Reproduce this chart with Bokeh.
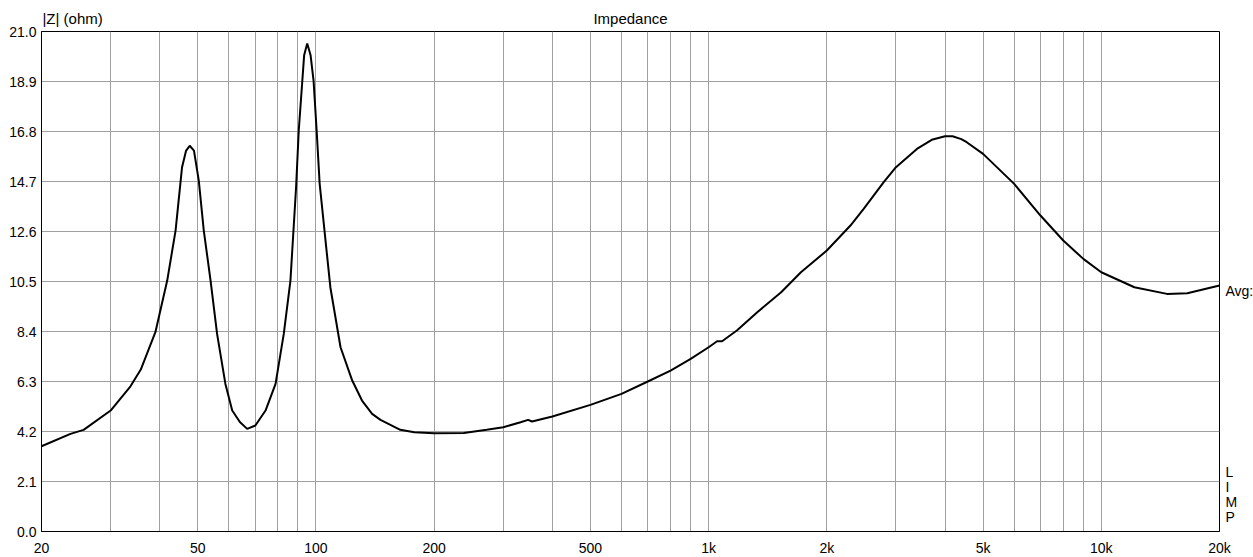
from bokeh.plotting import figure
from bokeh.models import FixedTicker, PrintfTickFormatter, Range1d, LinearAxis, LogAxis
from bokeh.embed import file_html
from bokeh.resources import INLINE

# Impedance curve (Hz, ohm)
freq = [20, 23.7, 25.6, 30, 33.7, 35.8, 39, 41.8, 43.9, 45.6, 46.7, 47.7, 48.9, 50.3,
        51.8, 53.9, 56.0, 58.8, 61.2, 64.0, 66.8, 70.1, 74.4, 78.9, 82.8, 86.1, 89.0,
        90.4, 93.3, 95.0, 96.9, 98.6, 100.4, 102.2, 108.8, 115.5, 123.7, 131, 139, 146,
        164, 178, 200, 238, 272, 300, 332, 347, 355, 400, 500, 600, 700, 800, 900, 1000,
        1051, 1082, 1180, 1330, 1530, 1718, 2000, 2297, 2482, 2792, 3000, 3392, 3700, 4000,
        4180, 4400, 4542, 5000, 6000, 7000, 8000, 9000, 10000, 12140, 14700, 16560, 20000]
imp = [3.58, 4.10, 4.27, 5.08, 6.10, 6.80, 8.37, 10.54, 12.64, 15.30, 16.00, 16.20, 16.00, 14.74,
       12.64, 10.54, 8.30, 6.20, 5.08, 4.60, 4.31, 4.45, 5.08, 6.20, 8.30, 10.54, 14.46,
       16.84, 20.00, 20.50, 20.00, 18.94, 16.84, 14.60, 10.26, 7.74, 6.34, 5.50, 4.94, 4.69,
       4.27, 4.17, 4.13, 4.14, 4.27, 4.38, 4.59, 4.69, 4.62, 4.83, 5.32, 5.78, 6.30, 6.76, 7.25, 7.74,
       7.99, 7.99, 8.44, 9.21, 10.05, 10.89, 11.80, 12.85, 13.55, 14.67, 15.30, 16.07, 16.45, 16.60,
       16.60, 16.48, 16.35, 15.86, 14.60, 13.27, 12.22, 11.45, 10.89, 10.26, 9.98, 10.01, 10.33]

x_grid = [20, 30, 40, 50, 60, 70, 80, 90, 100, 200, 300, 400, 500, 600, 700, 800, 900,
          1000, 2000, 3000, 4000, 5000, 6000, 7000, 8000, 9000, 10000, 20000]
x_labels = {20: "20", 50: "50", 100: "100", 200: "200", 500: "500", 1000: "1k",
            2000: "2k", 5000: "5k", 10000: "10k", 20000: "20k"}
y_ticks = [0.0, 2.1, 4.2, 6.3, 8.4, 10.5, 12.6, 14.7, 16.8, 18.9, 21.0]

# texts placed around the frame
top_texts = {24.0: "|Z| (ohm)", 632.5: "Impedance"}
right_texts = {10.12: "Avg:", 2.52: "L", 1.89: "I", 1.26: "M", 0.63: "P"}

FONT = "Liberation Sans"
FS = "14px"
GRID = "#a0a0a0"

p = figure(x_axis_type="log", x_range=Range1d(20, 20000), y_range=Range1d(0, 21),
           frame_width=1178, frame_height=500,
           min_border_left=41, min_border_right=34, min_border_top=31, min_border_bottom=26,
           output_backend="svg", toolbar_location=None)
p.background_fill_color = "white"
p.border_fill_color = "white"
p.outline_line_color = "black"
p.outline_line_width = 1
p.outline_line_alpha = 1.0

p.xaxis.ticker = FixedTicker(ticks=x_grid)
p.xaxis.major_label_overrides = {t: x_labels.get(t, "") for t in x_grid}
p.yaxis.ticker = FixedTicker(ticks=y_ticks)
p.yaxis.formatter = PrintfTickFormatter(format="%.1f")


def style(ax, standoff, size=FS):
    ax.major_tick_out = 0
    ax.major_tick_in = 0
    ax.minor_tick_out = 0
    ax.minor_tick_in = 0
    ax.major_label_text_font = FONT
    ax.major_label_text_font_size = size
    ax.major_label_text_color = "black"
    ax.major_label_standoff = standoff


style(p.xaxis[0], 8)
style(p.yaxis[0], 5)
p.xaxis[0].axis_line_color = "black"
p.yaxis[0].axis_line_color = "black"

top_ax = LogAxis(ticker=FixedTicker(ticks=list(top_texts.keys())),
                 major_label_overrides=dict(top_texts))
style(top_ax, 5, "15px")
top_ax.axis_line_color = None
p.add_layout(top_ax, "above")

right_ax = LinearAxis(ticker=FixedTicker(ticks=list(right_texts.keys())),
                      major_label_overrides=dict(right_texts))
style(right_ax, 6)
right_ax.axis_line_color = None
p.add_layout(right_ax, "right")

p.xgrid.grid_line_color = GRID
p.ygrid.grid_line_color = GRID
p.xgrid.grid_line_width = 1
p.ygrid.grid_line_width = 1

p.line(freq, imp, line_color="black", line_width=2)

open("out.html", "w").write(file_html(p, INLINE))
